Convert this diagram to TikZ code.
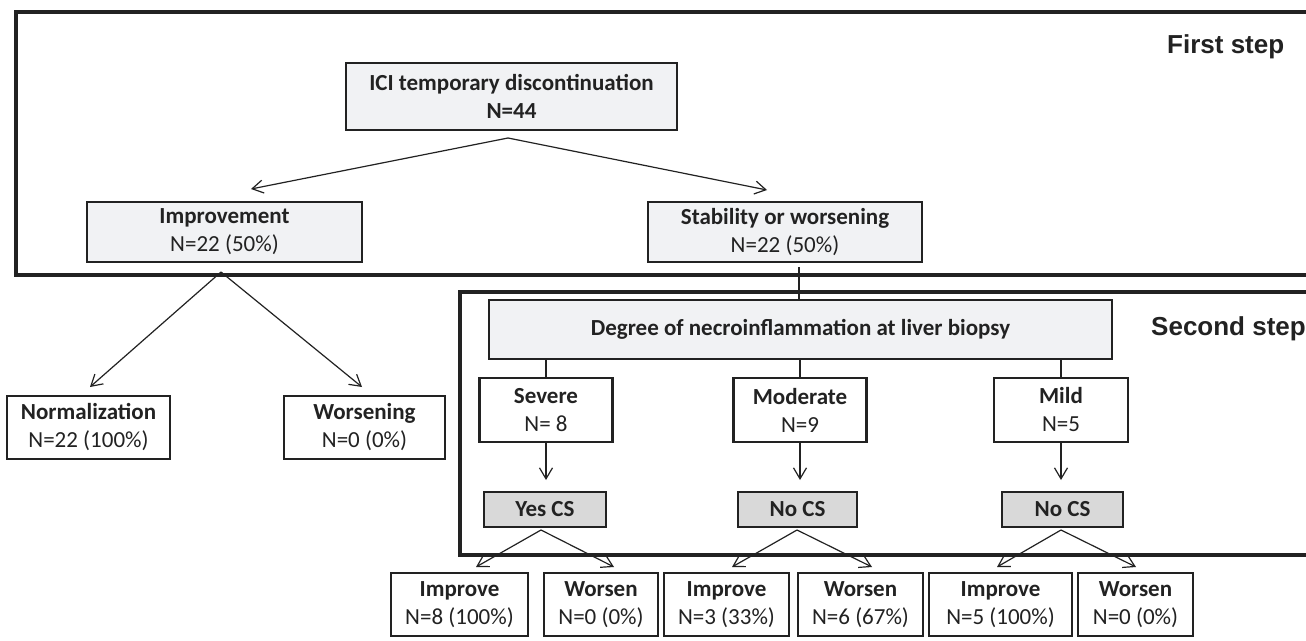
\documentclass[tikz,border=0pt]{standalone}
\usepackage{fontspec}
\setmainfont{Carlito}
\newfontfamily\arialf{Liberation Sans}
\usetikzlibrary{arrows.meta}
\definecolor{ink}{HTML}{222222}
\definecolor{lightfill}{HTML}{F1F2F4}
\definecolor{csfill}{HTML}{D9D9D9}
\tikzset{
  bx/.style={draw=ink, line width=2.8pt, align=center, inner sep=0pt, text=ink,
    font=\fontsize{23}{28}\selectfont, rectangle},
  lbx/.style={bx, fill=lightfill},
  wbx/.style={bx, fill=white},
  csbx/.style={bx, fill=csfill, font=\fontsize{23}{28}\selectfont\bfseries},
  frame/.style={draw=ink, line width=4.5pt},
  conn/.style={draw=ink, line width=1.2pt},
  arr/.style={conn, -{Straight Barb[length=11pt,width=13pt,line width=1.2pt]}},
  steplabel/.style={font=\arialf\bfseries\fontsize{26}{30}\selectfont, text=ink, inner sep=0pt, anchor=base west},
}
\begin{document}
\begin{tikzpicture}[x=1pt,y=-1pt]
\useasboundingbox (0,0) rectangle (1306,640);
\clip (0,0) rectangle (1306,640);
\fill[white] (0,0) rectangle (1306,640);

% frames
\draw[frame] (16,12) rectangle (1340,275);
\draw[frame] (460,292) rectangle (1340,555);

\node[steplabel] (first) at (1167,53) {First step};
\node[steplabel] (second) at (1151,335) {Second step};

% first step
\node[lbx, minimum width=331pt, minimum height=67pt] (ici) at (511.5,96.5) {\bfseries ICI temporary discontinuation\\\bfseries N=44};
\node[lbx, minimum width=275pt, minimum height=60pt] (imp) at (224.5,232) {\bfseries Improvement\\N=22 (50\%)};
\node[lbx, minimum width=274pt, minimum height=60pt] (stab) at (785,232) {\bfseries Stability or worsening\\N=22 (50\%)};

\coordinate (icis) at (508,138);
\coordinate (tipimp) at (251,189);
\coordinate (tipstab) at (767,190);
\draw[arr] (icis) -- (tipimp);
\draw[arr] (icis) -- (tipstab);

% improvement branch
\node[wbx, minimum width=163pt, minimum height=63pt] (norm) at (88.5,427.5) {\bfseries Normalization\\N=22 (100\%)};
\node[wbx, minimum width=161pt, minimum height=63pt] (wors) at (364.5,427.5) {\bfseries Worsening\\N=0 (0\%)};
\coordinate (apexi) at (221,272);
\coordinate (tipnorm) at (90,387);
\coordinate (tipwors) at (362,387);
\draw[arr] (apexi) -- (tipnorm);
\draw[arr] (apexi) -- (tipwors);

% second step
\node[lbx, minimum width=623pt, minimum height=59pt] (deg) at (800.5,329.5) {\bfseries Degree of necroinflammation at liver biopsy};
\coordinate (stabs) at (799,267);
\draw[conn] (stabs) -- (stabs |- deg.north);

\node[wbx, minimum width=133pt, minimum height=64pt] (sev) at (546,410) {\bfseries Severe\\N= 8};
\node[wbx, minimum width=133pt, minimum height=64pt] (mod) at (800,410) {\bfseries Moderate\\N=9};
\node[wbx, minimum width=134pt, minimum height=64pt] (mild) at (1061,410) {\bfseries Mild\\N=5};

\draw[conn] (deg.south -| sev) -- (sev.north);
\draw[conn] (deg.south -| mod) -- (mod.north);
\draw[conn] (deg.south -| mild) -- (mild.north);

\node[csbx, minimum width=122pt, minimum height=35pt] (cs1) at (545,509.5) {Yes CS};
\node[csbx, minimum width=119pt, minimum height=35pt] (cs2) at (797.5,509.5) {No CS};
\node[csbx, minimum width=121pt, minimum height=35pt] (cs3) at (1062.5,509.5) {No CS};

\coordinate (t1) at (546,480);
\coordinate (t2) at (800,480);
\coordinate (t3) at (1061,480);
\draw[arr] (sev.south) -- (t1);
\draw[arr] (mod.south) -- (t2);
\draw[arr] (mild.south) -- (t3);

% bottom row
\node[wbx, minimum width=137pt, minimum height=63pt] (i1) at (459.5,604.5) {\bfseries Improve\\N=8 (100\%)};
\node[wbx, minimum width=114pt, minimum height=63pt] (w1) at (601,604.5) {\bfseries Worsen\\N=0 (0\%)};
\node[wbx, minimum width=125pt, minimum height=63pt] (i2) at (726.5,604.5) {\bfseries Improve\\N=3 (33\%)};
\node[wbx, minimum width=125pt, minimum height=63pt] (w2) at (860.5,604.5) {\bfseries Worsen\\N=6 (67\%)};
\node[wbx, minimum width=143pt, minimum height=63pt] (i3) at (1000.5,604.5) {\bfseries Improve\\N=5 (100\%)};
\node[wbx, minimum width=115pt, minimum height=63pt] (w3) at (1135.5,604.5) {\bfseries Worsen\\N=0 (0\%)};

\coordinate (a1) at (541,530);
\coordinate (a2) at (797,530);
\coordinate (a3) at (1061,530);
\coordinate (ti1) at (476,567);
\coordinate (tw1) at (614,567);
\coordinate (ti2) at (732,567);
\coordinate (tw2) at (872,567);
\coordinate (ti3) at (997,567);
\coordinate (tw3) at (1136,567);
\draw[arr] (a1) -- (ti1);
\draw[arr] (a1) -- (tw1);
\draw[arr] (a2) -- (ti2);
\draw[arr] (a2) -- (tw2);
\draw[arr] (a3) -- (ti3);
\draw[arr] (a3) -- (tw3);
\end{tikzpicture}
\end{document}
